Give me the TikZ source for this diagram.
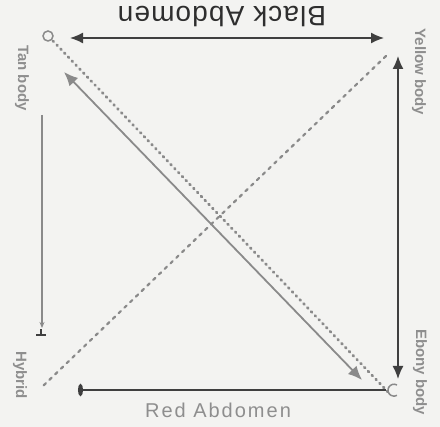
\documentclass[tikz,border=0pt]{standalone}
\usepackage{fontspec}
\setmainfont{Liberation Sans}
\usetikzlibrary{arrows.meta}
\definecolor{bgc}{HTML}{F3F3F1}
\definecolor{linec}{HTML}{8A8A8A}
\definecolor{darkc}{HTML}{3F3F3F}
\definecolor{textc}{HTML}{2E2E2E}
\definecolor{faintc}{HTML}{8E8E8E}
\tikzset{
  conn/.style={draw=linec, line width=1.8pt},
  darkconn/.style={draw=darkc, line width=1.5pt},
  dotconn/.style={draw=linec, line width=2.8pt, dash pattern=on 1pt off 4.5pt, line cap=round},
  sidelabel/.style={text=faintc, font=\fontsize{15}{17}\selectfont\bfseries, inner sep=0pt},
  bigtip/.tip={Latex[length=13pt,width=11pt]},
}
\begin{document}
\begin{tikzpicture}[x=1pt,y=-1pt]
\fill[bgc] (0,0) rectangle (440,427);
\useasboundingbox (0,0) rectangle (440,427);

% labels
\node[text=textc, font=\fontsize{28}{31}\selectfont\addfontfeatures{LetterSpace=4}, rotate=180, inner sep=0pt] (top) at (222,17) {Black Abdomen};
\node[text=faintc, font=\fontsize{20}{22}\selectfont\addfontfeatures{LetterSpace=10}, inner sep=0pt] (bot) at (218,410) {Red Abdomen};
\node[sidelabel, rotate=-90] (lt) at (22,78) {Tan body};
\node[sidelabel, rotate=-90] (lb) at (20,375) {Hybrid};
\node[sidelabel, rotate=-90] (rt) at (419,72) {Yellow body};
\node[sidelabel, rotate=-90] (rb) at (420,372) {Ebony body};

% corner marks
\node[draw=linec, circle, minimum size=10pt, inner sep=0pt, line width=1.5pt] (tl) at (48,36) {};
\draw[linec, line width=1.5pt] (397,385) arc (60:300:6pt);

% endpoints
\coordinate (ta1) at (70,38);
\coordinate (ta2) at (384,38);
\coordinate (rv1) at (398,56);
\coordinate (rv2) at (398,379);
\coordinate (lv1) at (42,115);
\coordinate (lv2) at (42,328);
\coordinate (bl1) at (78,390);
\coordinate (bl2) at (386,390);
\coordinate (d1) at (64,72);
\coordinate (d2) at (362,380);
\coordinate (dd1) at (53,41);
\coordinate (dd2) at (388,392);
\coordinate (ad1) at (386,56);
\coordinate (ad2) at (43,386);

% connectors
\draw[darkconn, bigtip-bigtip] (ta1) -- (ta2);
\draw[darkconn, bigtip-bigtip] (rv1) -- (rv2);
\draw[conn, line width=2.4pt, -{Stealth[length=6pt,width=5pt]}] (lv1) -- (lv2);
\draw[darkconn, {Ellipse[length=5pt,width=12pt]}-] (bl1) -- (bl2);
\draw[conn, {Latex[length=14pt,width=12pt]}-{Latex[length=14pt,width=12pt]}] (d1) -- (d2);
\draw[dotconn] (dd1) -- (dd2);
\draw[dotconn, line width=2.2pt, dash pattern=on 3pt off 5pt] (ad1) -- (ad2);
\draw[darkc, line width=1.8pt] (36,335) -- (46,335) (41,335) -- (41,329);
\end{tikzpicture}
\end{document}
